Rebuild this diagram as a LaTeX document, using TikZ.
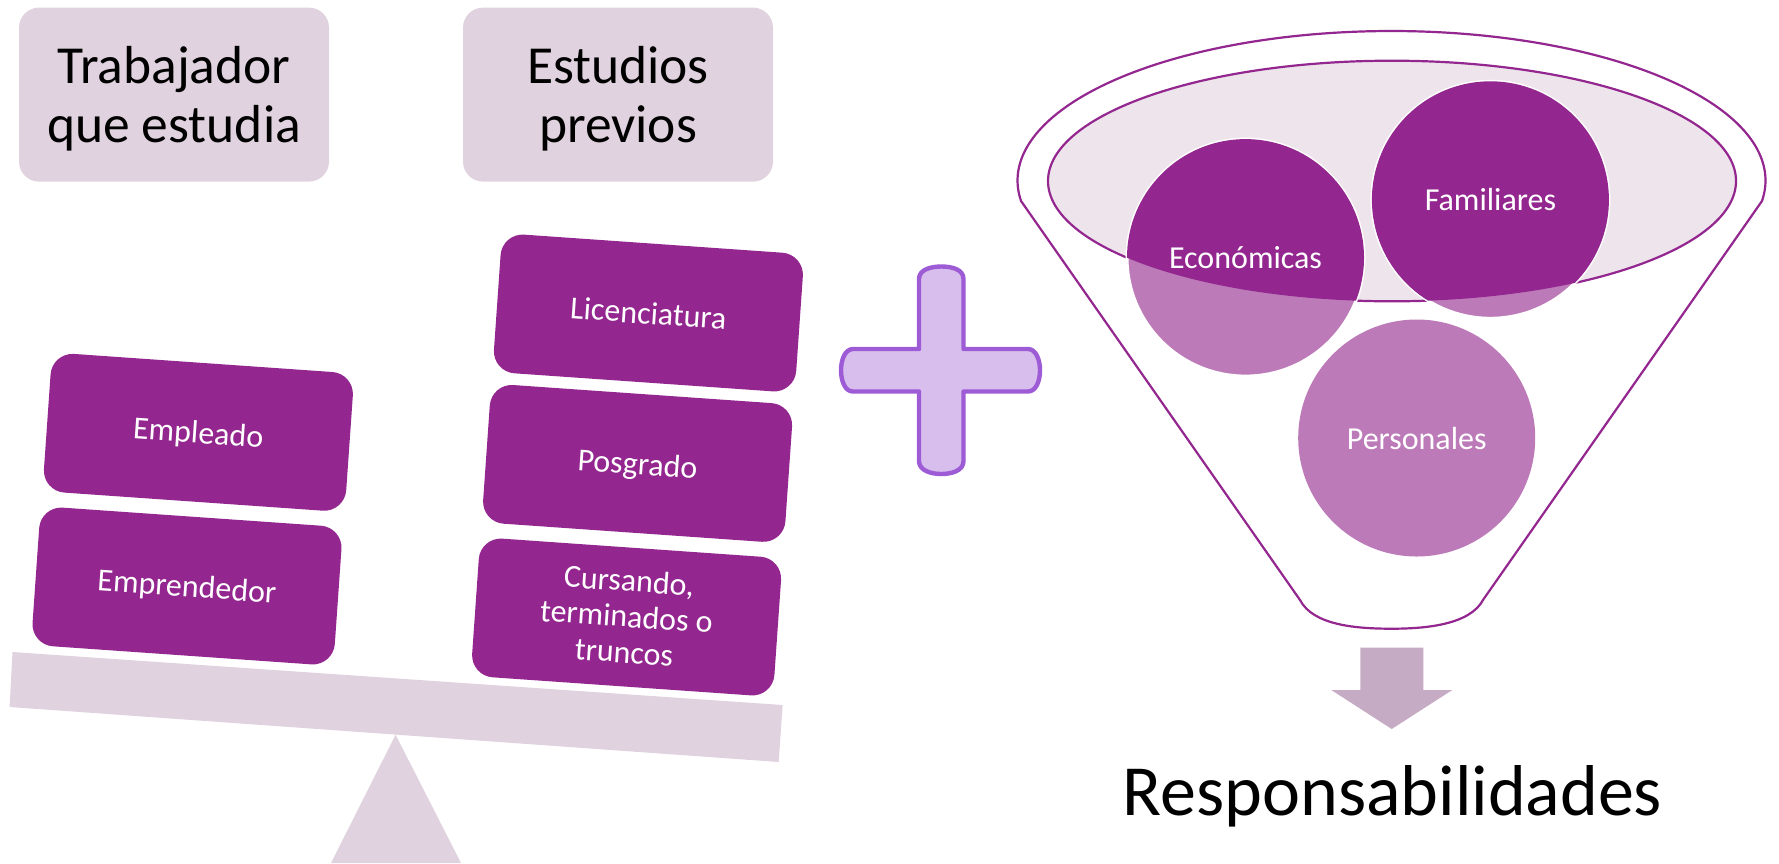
\documentclass[tikz,border=0pt]{standalone}
\usepackage{fontspec}
\setmainfont{Carlito}
\definecolor{dark}{HTML}{93278F}
\definecolor{lite}{HTML}{BC7AB8}
\definecolor{pale}{HTML}{E0D2DE}
\definecolor{inner}{HTML}{EEE4EC}
\definecolor{arrowc}{HTML}{C6ABC4}
\definecolor{plusl}{HTML}{9E5BD6}
\definecolor{plusf}{HTML}{D8BEED}
\tikzset{
  headbox/.style={fill=pale,rounded corners=20pt,minimum width=310pt,minimum height=174pt,inner sep=0pt,align=center,text=black,font=\fontsize{53.5}{58.5}\selectfont},
  tiltbox/.style={fill=dark,rounded corners=22pt,minimum width=303pt,minimum height=139pt,inner sep=0pt,align=center,text=white,rotate=-4,font=\fontsize{32}{35.8}\selectfont},
  tiltone/.style={tiltbox,text height=26pt,text depth=4pt},
  roundlabel/.style={circle,minimum size=237pt,inner sep=0pt,text=white,font=\fontsize{32}{35.8}\selectfont},
  funnelline/.style={draw=dark,line width=2.2pt,line join=round},
}
\begin{document}
\begin{tikzpicture}[x=1pt,y=-1pt]
\useasboundingbox (0,0) rectangle (1779,863);
% headers
\node[headbox] (h1) at (174,94.6) {\rule{0pt}{45pt}Trabajador\\que estudia};
\node[headbox] (h2) at (618,94.6) {\rule{0pt}{45pt}Estudios\\previos};
% balance
\fill[pale] (331,863) -- (395.6,734.7) -- (461,863) -- cycle;
\fill[pale] (12.5,652) -- (782.6,705) -- (778.7,762) -- (9.6,707) -- cycle;
\node[tiltone] (emp) at (198.4,432.3) {Empleado};
\node[tiltone] (ent) at (187,586) {Emprendedor};
\node[tiltone] (lic) at (648.4,313) {Licenciatura};
\node[tiltone] (pos) at (637.6,463.4) {Posgrado};
\node[tiltbox] (cur) at (626.6,617) {Cursando,\\terminados o\\truncos\rule[-2pt]{0pt}{2pt}};
% plus
\draw[draw=plusl,fill=plusf,line width=4.4pt,line join=round]
 (919,279) .. controls (919,269) and (932,266.5) .. (941.2,266.5)
 .. controls (951,266.5) and (963.5,269) .. (963.5,279)
 -- (963.5,349) -- (1028,349)
 .. controls (1036,349) and (1040,360) .. (1040,370.2)
 .. controls (1040,381) and (1036,391.5) .. (1028,391.5)
 -- (963.5,391.5) -- (963.5,461)
 .. controls (963.5,471) and (951,474) .. (941.2,474)
 .. controls (932,474) and (919,471) .. (919,461)
 -- (919,391.5) -- (853,391.5)
 .. controls (845,391.5) and (841,381) .. (841,370.2)
 .. controls (841,360) and (845,349) .. (853,349)
 -- (919,349) -- cycle;
% funnel
\draw[funnelline] plot[domain=187.9:-7.9,samples=160] ({1391.5+374*cos(\x)},{180.5-149.5*sin(\x)})
 -- (1483.3,599.5) .. controls (1470,625) and (1425,628.7) .. (1391.7,628.7)
 .. controls (1355,628.7) and (1313,625) .. (1300,600) -- cycle;
\draw[funnelline,fill=inner] (1392,181) ellipse [x radius=344,y radius=120.3];
\fill[lite,draw=white,line width=3pt] (1245.5,257.6) circle [radius=118.5];
\fill[lite,draw=white,line width=3pt] (1490.4,199.8) circle [radius=118.5];
\fill[lite] (1416.7,438) circle [radius=118.5];
\begin{scope}
\clip (1392,181) ellipse [x radius=344,y radius=120.3];
\fill[dark] (1245.5,257.6) circle [radius=118.5];
\fill[dark] (1490.4,199.8) circle [radius=118.5];
\end{scope}
\node[roundlabel] (eco) at (1245.5,257.6) {Económicas};
\node[roundlabel] (fam) at (1490.4,199.8) {Familiares};
\node[roundlabel] (per) at (1416.7,438) {Personales};
% arrow
\fill[arrowc] (1360.3,647.5) -- (1423.3,647.5) -- (1423.3,690) -- (1452.3,690) -- (1391.7,729) -- (1331.3,690) -- (1360.3,690) -- cycle;
\node[anchor=base,inner sep=0pt,font=\fontsize{72}{76}\selectfont,text=black] (res) at (1392.5,815) {Responsabilidades};
\end{tikzpicture}
\end{document}
